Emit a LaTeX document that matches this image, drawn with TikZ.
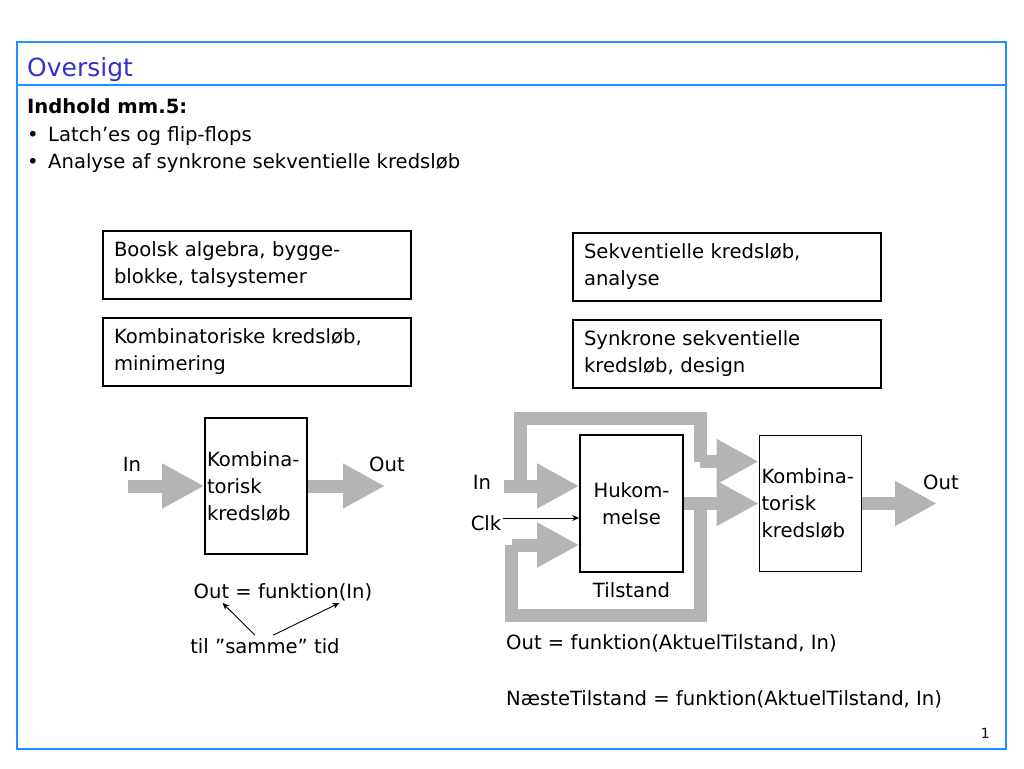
\documentclass[tikz,border=0pt]{standalone}
\usepackage{fontspec}
\setmainfont{DejaVu Sans}
\usetikzlibrary{arrows.meta, positioning, calc}

\definecolor{framebl}{RGB}{30,144,255}
\definecolor{titlebl}{RGB}{51,51,204}
\definecolor{pipegray}{RGB}{180,180,180}

\newcommand{\bodysize}{\fontsize{19.6}{27}\selectfont}

\tikzset{
  slidebox/.style={draw, line width=2pt, text width=286pt, inner xsep=11pt,
    minimum height=68pt, align=left, font=\bodysize},
  blockbox/.style={draw, line width=1.6pt, text width=98pt, inner xsep=2pt,
    minimum height=136pt, align=left, font=\bodysize},
  pipe/.style={draw=pipegray, line width=13pt, line join=miter,
    -{Triangle[length=42pt,width=42pt]}},
  band/.style={draw=pipegray, line width=13pt, line join=miter},
  lbl/.style={font=\bodysize, inner sep=0pt},
  thinarrow/.style={-{Stealth[length=7pt,width=6pt]}, line width=0.9pt},
}

\begin{document}
\begin{tikzpicture}[x=1pt, y=-1pt]
    \useasboundingbox (0,0) rectangle (1024,768);

    % slide frame and title
    \draw[framebl, line width=2pt] (17,42) rectangle (1006,749);
    \draw[framebl, line width=2pt] (17,85) -- (1006,85);
    \node[anchor=base west, inner sep=0pt, text=titlebl, font=\fontsize{25}{30}\selectfont] (title) at (27,77) {Oversigt};
    \node[lbl, anchor=base west] (indhold) at (27,113) {\textbf{Indhold mm.5:}};
    \node[lbl, anchor=base west] (punkt1) at (27,141) {\makebox[21pt][l]{•}Latch’es og flip-flops};
    \node[lbl, anchor=base west] (punkt2) at (27,168) {\makebox[21pt][l]{•}Analyse af synkrone sekventielle kredsløb};

    % course boxes
    \node[slidebox, anchor=north west] (boolsk) at (102,230) {Boolsk algebra, bygge-\\blokke, talsystemer};
    \node[slidebox, below=17pt of boolsk] (kombmin) {Kombinatoriske kredsløb,\\minimering};
    \node[slidebox, anchor=north west] (sekv) at (572,232) {Sekventielle kredsløb,\\analyse};
    \node[slidebox, below=17pt of sekv] (synk) {Synkrone sekventielle\\kredsløb, design};

    % combinatorial circuit
    \node[blockbox] (komb1) at (256,486) {Kombina-\\torisk\\kredsløb};
    \coordinate (in1) at (128,486);
    \coordinate (out1) at (385,486);
    \draw[pipe] (in1) -- (komb1.west);
    \draw[pipe] (komb1.east) -- (out1);
    \node[lbl] (inlbl1) at (132,464) {In};
    \node[lbl] (outlbl1) at (387,464) {Out};
    \node[lbl] (fkt1) at (283,592) {Out = funktion(In)};
    \node[lbl] (samtid) at (265,646) {til ”samme” tid};
    \draw[thinarrow] ([xshift=-10pt,yshift=3pt]samtid.north) -- ([xshift=29pt,yshift=-2pt]fkt1.south west);
    \draw[thinarrow] ([xshift=8pt,yshift=3pt]samtid.north) -- ([xshift=-33pt,yshift=-2pt]fkt1.south east);

    % sequential circuit
    \node[draw, line width=1.6pt, minimum width=103pt, minimum height=137pt, align=center, font=\bodysize] (huk) at (631.5,503.5) {Hukom-\\melse};
    \node[blockbox] (komb2) at (810.5,503.5) {Kombina-\\torisk\\kredsløb};
    \coordinate (in2) at (504,486);
    \coordinate (clk) at (503,518);
    \coordinate (out2) at (937,503.5);
    \draw[pipe] (in2) -- (in2 -| huk.west);
    \draw[band] (520,493) -- (520,418.5) -- (700,418.5) -- (700,461.5);
    \draw[pipe] (700,461.5) -- ([yshift=42pt]komb2.west);
    \draw[pipe] (huk.east) -- (komb2.west);
    \draw[band] (700,503.5) -- (700,615) -- (511.5,615) -- (511.5,545);
    \draw[pipe] (511.5,545) -- ([yshift=-41.5pt]huk.west);
    \draw[pipe] (komb2.east) -- (out2);
    \draw[thinarrow] (clk) -- (clk -| huk.west);
    \node[lbl] (inlbl2) at (482,482) {In};
    \node[lbl] (clklbl) at (486,523) {Clk};
    \node[lbl] (outlbl2) at (941,482) {Out};
    \node[lbl, below=10pt of huk] (tilst) {Tilstand};
    \node[lbl, anchor=base west] (fkt2) at (506,649) {Out = funktion(AktuelTilstand, In)};
    \node[lbl, anchor=base west] (fkt3) at (506,705) {NæsteTilstand = funktion(AktuelTilstand, In)};

    % page number
    \node[anchor=base east, inner sep=0pt, font=\fontsize{14}{16}\selectfont] (pnum) at (990,738) {1};
\end{tikzpicture}
\end{document}
